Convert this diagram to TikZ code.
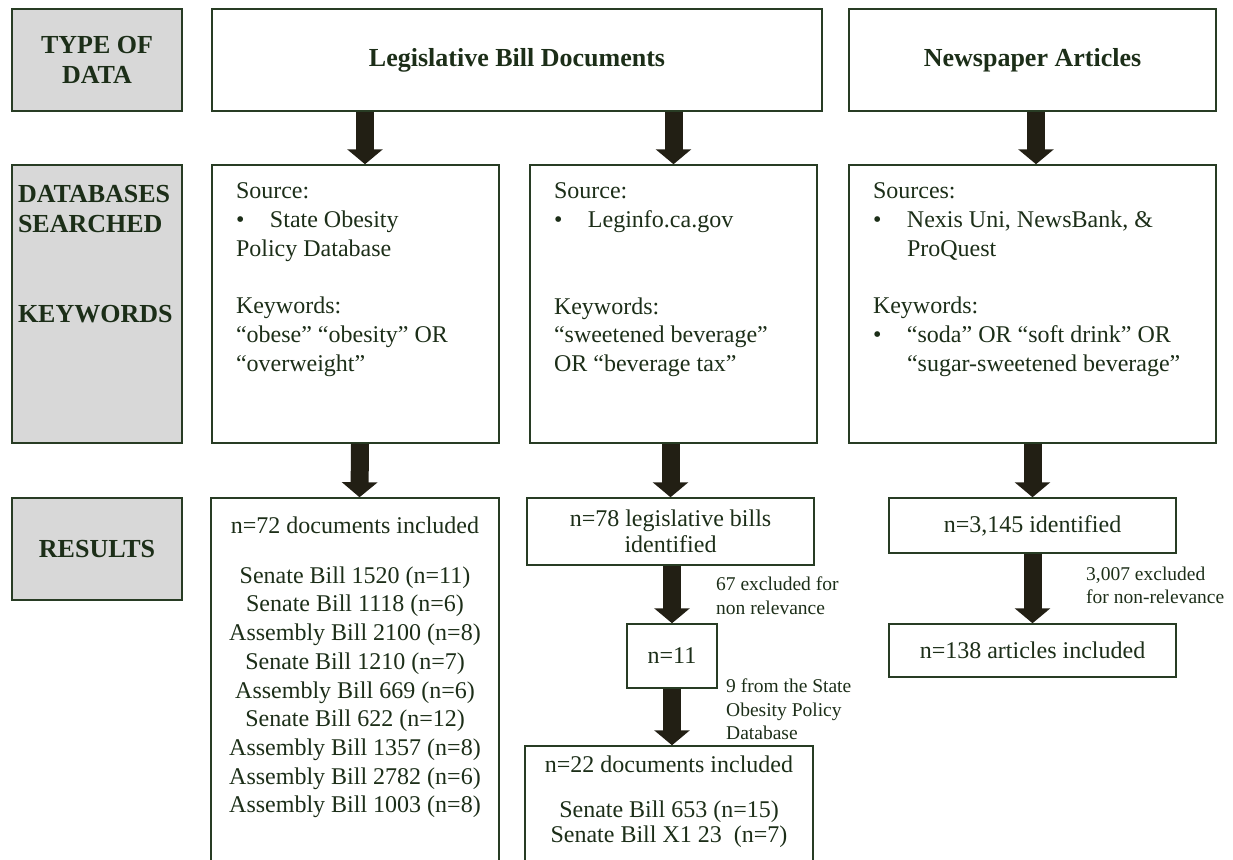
\documentclass[tikz,border=0pt]{standalone}
\usepackage{fontspec}
\setmainfont{Liberation Serif}
\usetikzlibrary{arrows.meta}

\definecolor{txtgreen}{RGB}{28,46,24}
\definecolor{boxgreen}{RGB}{40,60,36}
\definecolor{arrowdark}{RGB}{34,31,20}
\definecolor{lblgray}{RGB}{216,216,216}

\newcommand{\bodyfont}{\fontsize{24}{28.7}\selectfont}
\newcommand{\headfont}{\fontsize{26}{30}\selectfont\bfseries}
\newcommand{\notefont}{\fontsize{19.5}{23.5}\selectfont}
\newcommand{\topbox}[3]{\parbox[c][#2][t]{#1}{\raggedright #3}}
\newcommand{\midbox}[3]{\parbox[c][#2][t]{#1}{\centering #3}}
\newcommand{\bul}{\makebox[34pt][l]{\textbullet}}

\begin{document}
\begin{tikzpicture}[
            x=1pt, y=-1pt,
            databox/.style={draw=boxgreen, line width=1.5pt, inner sep=0pt, text=txtgreen, align=center},
            rowlabel/.style={databox, fill=lblgray, font=\headfont, minimum width=170pt, minimum height=102pt},
            bigarrow/.style={draw=arrowdark, line width=18pt, -{Triangle[length=15pt, width=35pt]}},
            note/.style={anchor=north west, align=left, inner sep=0pt, font=\notefont, text=txtgreen},
        ]
        \useasboundingbox (0, 0) rectangle (1233, 859);
        \clip (0, 0) rectangle (1233, 859);

        \node[rowlabel] (typelbl) at (97, 60) {TYPE OF\\DATA};
        \node[databox, minimum width=610pt, minimum height=102pt, font=\headfont] (legis) at (517, 60) {Legislative Bill Documents};
        \node[databox, minimum width=367pt, minimum height=102pt, font=\headfont] (news) at (1032.5, 60) {Newspaper Articles};

        \node[rowlabel, inner xsep=6pt, inner ysep=19.8pt] (dblbl) at (97, 304) {\topbox{158pt}{238.4pt}{DATABASES\\SEARCHED\\[60pt]KEYWORDS}};
        \node[databox, inner xsep=24pt, inner ysep=18pt, font=\bodyfont] (dbleft) at (355.5, 304) {\topbox{239pt}{242pt}{Source:\\\bul State Obesity\\Policy Database\\[29pt]Keywords:\\“obese” “obesity” OR\\“overweight”}};
        \node[databox, inner xsep=24pt, inner ysep=18pt, font=\bodyfont] (dbmid) at (673.5, 304) {\topbox{239pt}{242pt}{Source:\\\bul Leginfo.ca.gov\\[58pt]Keywords:\\“sweetened beverage”\\OR “beverage tax”}};
        \node[databox, inner xsep=24pt, inner ysep=18pt, font=\bodyfont] (dbright) at (1032.5, 304) {\topbox{319pt}{242pt}{Sources:\\\bul Nexis Uni, NewsBank, \&\\\hspace*{34pt}ProQuest\\[29pt]Keywords:\\\bul “soda” OR “soft drink” OR\\\hspace*{34pt}“sugar-sweetened beverage”}};

        \node[rowlabel] (reslbl) at (97, 549) {RESULTS};
        \node[databox, inner xsep=10pt, inner ysep=18.6pt, font=\bodyfont] (resleft) at (355, 696.6) {\midbox{268pt}{360pt}{n=72 documents included\\[21.3pt]Senate Bill 1520 (n=11)\\Senate Bill 1118 (n=6)\\Assembly Bill 2100 (n=8)\\Senate Bill 1210 (n=7)\\Assembly Bill 669 (n=6)\\Senate Bill 622 (n=12)\\Assembly Bill 1357 (n=8)\\Assembly Bill 2782 (n=6)\\Assembly Bill 1003 (n=8)}};
        \node[databox, minimum width=287pt, minimum height=67pt, font=\bodyfont] (n78) at (670.5, 531.5) {n=78 legislative bills\\[-2.7pt]identified};
        \node[databox, minimum width=90pt, minimum height=64pt, font=\bodyfont] (n11) at (672, 656) {n=11};
        \node[databox, inner xsep=10pt, inner ysep=9.6pt, font=\bodyfont] (n22) at (669, 830.6) {\midbox{268pt}{150pt}{n=22 documents included\\[16.3pt]Senate Bill 653 (n=15)\\[-3pt]Senate Bill X1 23\ \ (n=7)}};
        \node[databox, minimum width=287pt, minimum height=55pt, font=\bodyfont] (n3145) at (1032.5, 525.5) {n=3,145 identified};
        \node[databox, minimum width=287pt, minimum height=53pt, font=\bodyfont] (n138) at (1032.5, 650.5) {n=138 articles included};

        \node[note] (excl67) at (716, 576.7) {67 excluded for\\non relevance};
        \node[note] (from9) at (726, 678.7) {9 from the State\\Obesity Policy\\Database};
        \node[note] (excl3007) at (1086, 566.7) {3,007 excluded\\for non-relevance};

        \draw[bigarrow] ([xshift=9.5pt]dbleft.north |- legis.south) -- ([xshift=9.5pt]dbleft.north);
        \draw[bigarrow] (dbmid.north |- legis.south) -- (dbmid.north);
        \draw[bigarrow] ([xshift=3.5pt]news.south) -- ([xshift=3.5pt]dbright.north);
        \draw[bigarrow] ([xshift=4.5pt]dbleft.south) -- ([xshift=4.5pt]resleft.north);
        \draw[bigarrow] (dbmid.south -| n78.north) -- (n78.north);
        \draw[bigarrow] (dbright.south) -- (n3145.north);
        \draw[bigarrow] (n78.south -| n11.north) -- (n11.north);
        \draw[bigarrow] (n11.south) -- (n11.south |- n22.north);
        \draw[bigarrow] (n3145.south) -- (n138.north);

    \end{tikzpicture}
\end{document}
